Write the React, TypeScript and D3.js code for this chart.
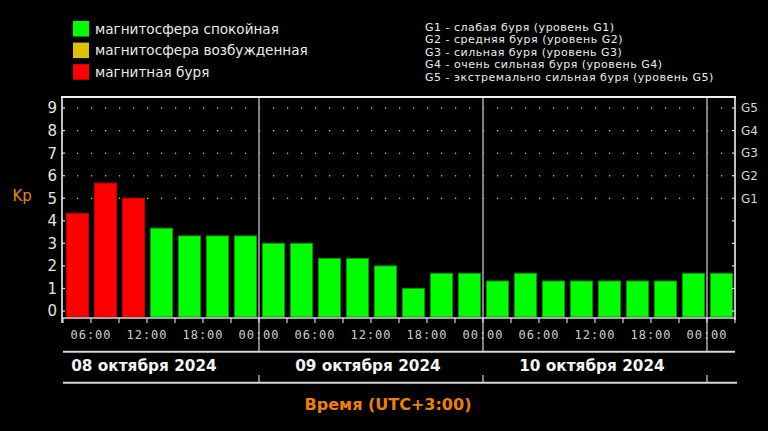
import React from "react";
import * as d3 from "d3";

// ---- data ----
const kpValues: number[] = [
  4.33, 5.67, 5.0, 3.67, 3.33, 3.33, 3.33,
  3.0, 3.0, 2.33, 2.33, 2.0, 1.0, 1.67, 1.67,
  1.33, 1.67, 1.33, 1.33, 1.33, 1.33, 1.33, 1.67,
  1.67,
];
const kpStatus: string[] = [
  "storm", "storm", "storm", "quiet", "quiet", "quiet", "quiet",
  "quiet", "quiet", "quiet", "quiet", "quiet", "quiet", "quiet", "quiet",
  "quiet", "quiet", "quiet", "quiet", "quiet", "quiet", "quiet", "quiet",
  "quiet",
];
const statusKeys = ["quiet", "active", "storm"];
const statusLabels = ["магнитосфера спокойная", "магнитосфера возбужденная", "магнитная буря"];
const statusColors = ["#00ff00", "#e0c000", "#ff0000"];
const statusStroke = ["#009a00", "#a08000", "#c00000"];

const yTicks = [0, 1, 2, 3, 4, 5, 6, 7, 8, 9];
const gLevels = [5, 6, 7, 8, 9];
const gLabels = ["G1", "G2", "G3", "G4", "G5"];
const gLegend = [
  "G1 - слабая буря (уровень G1)",
  "G2 - средняя буря (уровень G2)",
  "G3 - сильная буря (уровень G3)",
  "G4 - очень сильная буря (уровень G4)",
  "G5 - экстремально сильная буря (уровень G5)",
];
const dayNames = ["08 октября 2024", "09 октября 2024", "10 октября 2024"];
const dayStarts = ["2024-10-08T00:00:00Z", "2024-10-09T00:00:00Z", "2024-10-10T00:00:00Z"];
const rangeStart = "2024-10-08T03:00:00Z";
const rangeEnd = "2024-10-11T03:00:00Z";
const xTitle = "Время (UTC+3:00)";
const yTitle = "Kp";

const W = 768, H = 431;
const plotL = 62, plotR = 735, plotT = 97, plotB = 318;

export default function App() {
  const t0 = new Date(rangeStart);
  const t1 = new Date(rangeEnd);
  const x = d3.scaleUtc().domain([t0, t1]).range([63, plotR]);
  const y = d3.scaleLinear().domain([-0.31, 9.49]).range([plotB, plotT]);
  const slots = d3.utcHours(t0, t1, 3);
  const hourTicks = d3.utcHours(t0, d3.utcHour.offset(t1, 1), 3);
  const labelTicks = hourTicks.filter((t) => t.getUTCHours() % 6 === 0);
  const dotTimes = d3.utcMinutes(d3.utcMinute.offset(t0, 90), t1, 90);
  const midnights = d3.utcDays(d3.utcHour.offset(t0, 1), t1);
  const fmt = d3.utcFormat("%H:%M");
  const col = (s: string) => statusColors[statusKeys.indexOf(s)];
  const colS = (s: string) => statusStroke[statusKeys.indexOf(s)];
  const barBottom = plotB - 1;
  const sans = "'DejaVu Sans', Verdana, sans-serif";

  return (
    <svg
      width={W}
      height={H}
      style={{ position: "absolute", left: 0, top: 0, background: "#000" }}
      fontFamily={sans}
    >
      <rect x={0} y={0} width={W} height={H} fill="#000" />

      {/* legend left */}
      {statusKeys.map((k, i) => (
        <g key={k}>
          <rect x={73} y={21 + i * 21.6} width={16} height={15.5} fill={statusColors[i]} />
          <text x={95} y={33.5 + i * 21.6} fill="#ececec" fontSize={13.6}>
            {statusLabels[i]}
          </text>
        </g>
      ))}

      {/* legend right */}
      {gLegend.map((t, i) => (
        <text key={t} x={425} y={30.7 + i * 12.5} fill="#ececec" fontSize={11} letterSpacing={0.5}>
          {t}
        </text>
      ))}

      {/* dotted grid */}
      {gLevels.map((lv) =>
        dotTimes.map((t, j) => (
          <rect key={lv + "-" + j} x={x(t)} y={y(lv) - 0.5} width={1.2} height={1.2} fill="#d8d8d8" />
        ))
      )}

      {/* day separators */}
      {midnights.map((m, i) => (
        <line key={i} x1={x(m)} x2={x(m)} y1={plotT} y2={351} stroke="#a0a0a0" strokeWidth={1.6} />
      ))}

      {/* bars */}
      {slots.map((t, i) => {
        const xa = x(t);
        const xb = x(d3.utcHour.offset(t, 3));
        return (
          <rect
            key={i}
            x={xa + 3.5}
            y={y(kpValues[i])}
            width={xb - xa - 6}
            height={barBottom - y(kpValues[i])}
            fill={col(kpStatus[i])}
            stroke={colS(kpStatus[i])}
            strokeWidth={1}
          />
        );
      })}

      {/* frame */}
      <line x1={plotL - 1} x2={plotR + 1} y1={plotT} y2={plotT} stroke="#f0f0f0" strokeWidth={2} />
      <line x1={plotL} x2={plotL} y1={plotT} y2={323} stroke="#f0f0f0" strokeWidth={1.6} />
      <line x1={plotR} x2={plotR} y1={plotT} y2={320} stroke="#f0f0f0" strokeWidth={1.6} />
      <line x1={plotL} x2={plotR} y1={plotB} y2={plotB} stroke="#d8d8d8" strokeWidth={1.6} />

      {/* y ticks left/right */}
      {yTicks.map((v) => (
        <g key={v}>
          <line x1={plotL} x2={plotL + 3} y1={y(v)} y2={y(v)} stroke="#e0e0e0" strokeWidth={1.2} />
          <line x1={plotR - 3} x2={plotR} y1={y(v)} y2={y(v)} stroke="#e0e0e0" strokeWidth={1.2} />
          <text x={57} y={y(v)} dy="0.36em" textAnchor="end" fill="#e4e4e4" fontSize={15}>
            {v}
          </text>
        </g>
      ))}
      {gLevels.map((lv, i) => (
        <text key={lv} x={741} y={y(lv)} dy="0.36em" fill="#d8d8d8" fontSize={12}>
          {gLabels[i]}
        </text>
      ))}
      <text x={12.5} y={200.7} fill="#e88a00" fontSize={15}>
        {yTitle}
      </text>

      {/* x ticks */}
      {hourTicks.map((t, i) => (
        <line key={i} x1={x(t)} x2={x(t)} y1={plotB} y2={323} stroke="#d0d0d0" strokeWidth={1.2} />
      ))}
      {labelTicks.map((t, i) => (
        <text
          key={i}
          x={x(t)}
          y={338.5}
          textAnchor="middle"
          fill="#d0d0d0"
          fontSize={12}
          letterSpacing={1}
          fontFamily="'DejaVu Sans Mono', monospace"
        >
          {fmt(t)}
        </text>
      ))}

      {/* date row */}
      <line x1={63} x2={plotR} y1={351.7} y2={351.7} stroke="#d8d8d8" strokeWidth={2} />
      <line x1={63} x2={737} y1={382.7} y2={382.7} stroke="#d8d8d8" strokeWidth={2} />
      {midnights.map((m, i) => (
        <line key={i} x1={x(m)} x2={x(m)} y1={375} y2={382} stroke="#a0a0a0" strokeWidth={1.6} />
      ))}
      {dayStarts.map((d, i) => (
        <text
          key={d}
          x={x(d3.utcHour.offset(new Date(d), 12)) - 3}
          y={370.5}
          textAnchor="middle"
          fill="#f4f4f4"
          fontSize={15.3}
          fontWeight="bold"
        >
          {dayNames[i]}
        </text>
      ))}

      <text x={388} y={409.5} textAnchor="middle" fill="#f08000" fontSize={16} fontWeight="bold">
        {xTitle}
      </text>
    </svg>
  );
}
